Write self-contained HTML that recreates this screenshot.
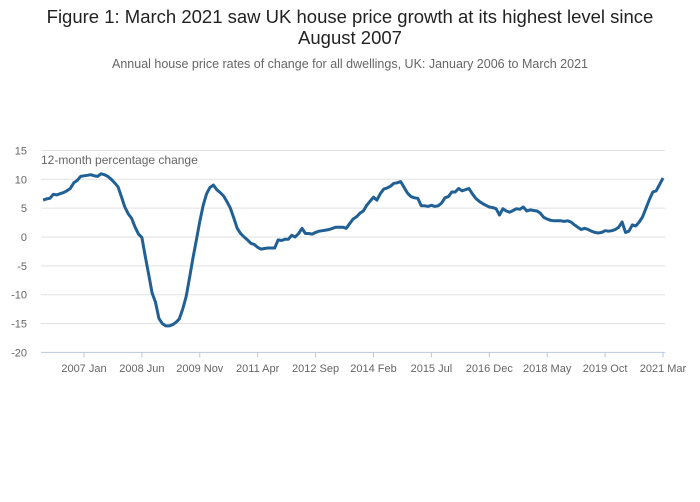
<!DOCTYPE html>
<html><head><meta charset="utf-8"><style>
body{margin:0;background:#fff;font-family:"Liberation Sans",sans-serif;}
#wrap{position:relative;width:700px;height:502px;}
.t{position:absolute;left:0;width:700px;text-align:center;}
</style></head><body>
<div id="wrap">
<div class="t" style="top:6px;font-size:18.5px;color:#222;line-height:21px;">Figure 1: March 2021 saw UK house price growth at its highest level since<br>August 2007</div>
<div class="t" style="top:57px;font-size:12.5px;color:#666;">Annual house price rates of change for all dwellings, UK: January 2006 to March 2021</div>
<svg id="svg" width="700" height="502" style="position:absolute;left:0;top:0"></svg>
</div>
<script>
const yTicks=[15,10,5,0,-5,-10,-15,-20];
const xTickLabels=["2007 Jan","2008 Jun","2009 Nov","2011 Apr","2012 Sep","2014 Feb","2015 Jul","2016 Dec","2018 May","2019 Oct","2021 Mar"];
const xTickMonths=[12,29,46,63,80,97,114,131,148,165,182];
const values=[
6.4,6.6,6.7,7.4,7.3,7.5,7.7,8.0,8.4,9.4,9.8,10.5,
10.6,10.7,10.8,10.6,10.5,10.95,10.8,10.5,10.0,9.4,8.7,7.0,
5.2,4.0,3.2,1.7,0.5,-0.1,-3.4,-6.5,-9.7,-11.3,-14.1,-15.0,
-15.4,-15.4,-15.2,-14.8,-14.2,-12.5,-10.3,-7.0,-3.6,-0.5,2.7,5.5,
7.5,8.6,9.0,8.2,7.7,7.1,6.1,5.0,3.3,1.5,0.6,0.0,
-0.5,-1.1,-1.3,-1.8,-2.1,-2.0,-1.9,-1.9,-1.9,-0.5,-0.6,-0.4,
-0.4,0.3,0.0,0.6,1.5,0.6,0.6,0.5,0.8,1.0,1.1,1.2,
1.3,1.5,1.7,1.7,1.7,1.5,2.3,3.1,3.5,4.1,4.5,5.5,
6.2,6.9,6.4,7.5,8.3,8.5,8.8,9.3,9.4,9.6,8.6,7.6,
7.0,6.8,6.7,5.4,5.4,5.3,5.5,5.3,5.4,5.9,6.8,7.0,
7.8,7.8,8.4,8.0,8.2,8.4,7.5,6.7,6.2,5.8,5.5,5.2,
5.1,4.9,3.8,4.9,4.5,4.3,4.6,4.9,4.8,5.2,4.5,4.7,
4.6,4.5,4.1,3.4,3.1,2.9,2.8,2.8,2.8,2.7,2.8,2.6,
2.1,1.7,1.3,1.5,1.3,1.0,0.8,0.7,0.8,1.1,1.0,1.1,
1.3,1.7,2.6,0.8,1.0,2.1,1.9,2.6,3.5,5.0,6.5,7.8,
8.0,9.1,10.2];
const NS="http://www.w3.org/2000/svg",svg=document.getElementById('svg');
const X0=43.1,PX=3.406,L=41,R=665;
const x=i=>X0+i*PX, y=v=>237-v*5.77;
function mk(t,a){const e=document.createElementNS(NS,t);for(const k in a)e.setAttribute(k,a[k]);svg.appendChild(e);return e;}
yTicks.forEach(v=>{
 if(v!==-20){const g=mk('line',{x1:L,x2:R,y1:y(v),y2:y(v),stroke:'#e2e2e2','stroke-width':1});
 
 }
 const t=mk('text',{x:27,y:y(v)+4,'text-anchor':'end','font-size':11,fill:'#666','font-family':'Liberation Sans'});
 t.textContent=v;
 
 
});
const ax=mk('line',{x1:L,x2:R,y1:y(-20),y2:y(-20),stroke:'#b7c8e0','stroke-width':1});


xTickMonths.forEach((m,i)=>{
 const tk=mk('line',{x1:x(m),x2:x(m),y1:y(-20),y2:y(-20)+5,stroke:'#b7c8e0'});
 
 
 const t=mk('text',{x:x(m),y:372,'text-anchor':'middle','font-size':11,fill:'#666','font-family':'Liberation Sans'});
 t.textContent=xTickLabels[i];
 
 
});
const yt=mk('text',{x:41,y:164,'font-size':12,fill:'#666','font-family':'Liberation Sans'});
yt.textContent='12-month percentage change';


const p=mk('path',{d:values.map((v,i)=>(i?'L':'M')+x(i).toFixed(1)+','+y(v).toFixed(1)).join(''),fill:'none',stroke:'#206095','stroke-width':3,'stroke-linejoin':'round'});


</script>
</body></html>
